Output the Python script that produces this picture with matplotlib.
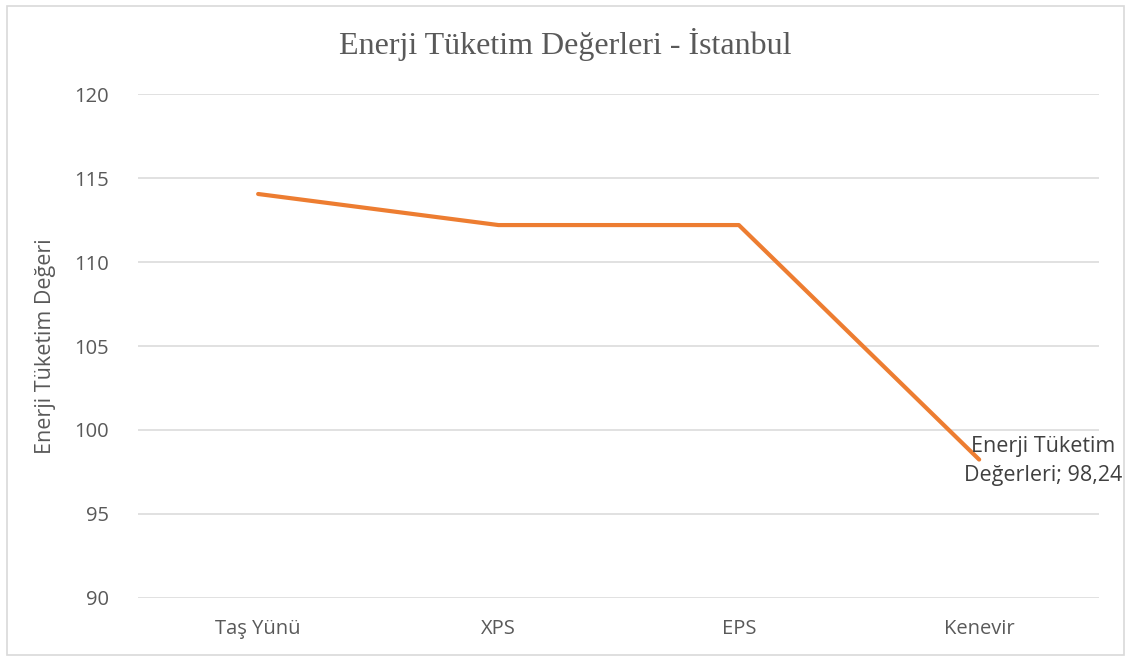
import matplotlib.pyplot as plt
from matplotlib.patches import Rectangle

# data
categories = ["Taş Yünü", "XPS", "EPS", "Kenevir"]
values = [114.05, 112.2, 112.2, 98.24]
yticks = [90, 95, 100, 105, 110, 115, 120]

text_gray = "#595959"
line_color = "#ED7D31"

fig = plt.figure(figsize=(11.31, 6.59), dpi=100, facecolor="white")
ax = fig.add_axes([0.122, 0.0926, 0.850, 0.7647])

# gridlines
for y in yticks:
    ax.axhline(y, color="#D9D9D9", linewidth=1.1, zorder=0)

x = list(range(len(categories)))
ax.plot(x, values, color=line_color, linewidth=3.0,
        solid_capstyle="round", solid_joinstyle="round", zorder=3)

ax.set_xlim(-0.5, len(categories) - 0.5)
ax.set_ylim(90, 120)
ax.set_yticks(yticks)
ax.set_yticklabels([str(v) for v in yticks])
ax.set_xticks(x)
ax.set_xticklabels(categories)
ax.tick_params(length=0, labelsize=14.5, labelcolor=text_gray)
ax.tick_params(axis="y", pad=21)
ax.tick_params(axis="x", pad=15)
for lbl in ax.get_xticklabels() + ax.get_yticklabels():
    lbl.set_fontfamily("Open Sans")
for s in ax.spines.values():
    s.set_visible(False)

ax.set_ylabel("Enerji Tüketim Değeri", fontsize=15.5, color=text_gray,
              family="Open Sans", labelpad=13)

# data label on last point
last = len(values) - 1
lbl = "Enerji Tüketim\nDeğerleri; " + f"{values[last]:.2f}".replace(".", ",")
ax.annotate(lbl, xy=(last, values[last]), xytext=(46, -1),
            textcoords="offset points", ha="center", va="center",
            multialignment="center", fontsize=15.5, color="#404040",
            family="Open Sans", linespacing=1.5, zorder=4)

fig.text(0.5, 0.932, "Enerji Tüketim Değerleri - İstanbul", ha="center",
         va="center", fontsize=23, color=text_gray, family="Liberation Serif")

# outer chart border
fig.patches.append(Rectangle((0.006, 0.006), 0.988, 0.985, transform=fig.transFigure,
                             fill=False, edgecolor="#D9D9D9", linewidth=1.2))

fig.savefig("out.png", dpi=100, facecolor="white")
